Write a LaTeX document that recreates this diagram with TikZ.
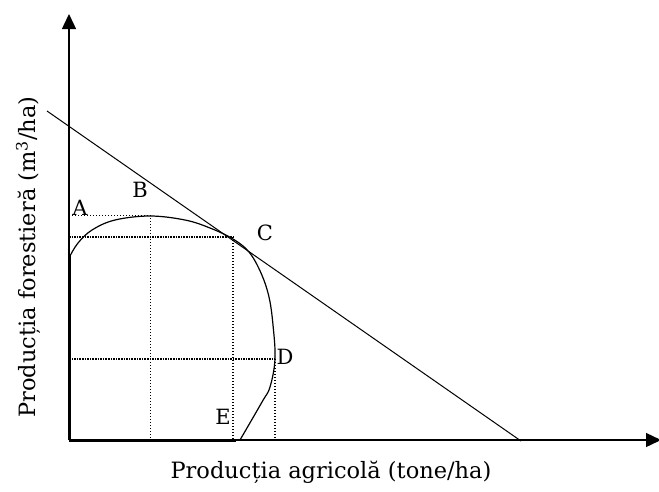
\documentclass[tikz,border=0pt]{standalone}
\usepackage{fontspec}
\setmainfont{DejaVu Serif}
\usetikzlibrary{arrows.meta}
\begin{document}
\begin{tikzpicture}[x=1pt,y=-1pt,
  axis/.style={line width=1.4pt,-{Triangle[length=15pt,width=14pt]}},
  heavy/.style={line width=3pt},
  thindot/.style={line width=1pt,dotted},
  thickdot/.style={line width=1.6pt,densely dotted},
  lbl/.style={font=\fontsize{21}{21}\selectfont,inner sep=0pt},
  axlbl/.style={font=\fontsize{22.5}{22.5}\selectfont,inner sep=0pt},
  curve/.style={line width=1.2pt}]
\useasboundingbox (0,0) rectangle (659,491);
% key points
\coordinate (O) at (69,440);
\coordinate (Ytop) at (69,14);
\coordinate (Xend) at (661,440);
\coordinate (A) at (69,215);
\coordinate (Pk) at (150,215);
\coordinate (Pb) at (150,440);
\coordinate (Cl) at (69,237);
\coordinate (C) at (233,237);
\coordinate (Cb) at (233,440);
\coordinate (Dl) at (69,359);
\coordinate (D) at (275,359);
\coordinate (Db) at (275,440);
\coordinate (E) at (236,440);
\coordinate (Cs) at (69,256);
\coordinate (T1) at (47,111);
\coordinate (T2) at (521,441);
% axes
\draw[axis] (O) -- (Ytop);
\draw[axis] (O) -- (Xend);
% thick segments
\draw[heavy] (O) -- (Cs);
\draw[heavy] (O) -- (E);
\draw[line width=2pt,densely dotted] (Cs) -- (A);
% dotted guides
\draw[thindot] (A) -- (Pk);
\draw[thindot] (Pk) -- (Pb);
\draw[thickdot] (Cl) -- (C);
\draw[thindot,line width=1.3pt] (C) -- (Cb);
\draw[thickdot] (Dl) -- (D);
\draw[thindot,line width=1.3pt] (D) -- (Db);
\draw[thindot,line width=1.6pt] (E) -- (Db);
% tangent line
\draw[line width=1pt] (T1) -- (T2);
% production frontier
\draw[curve] plot[smooth,tension=0.6] coordinates {(70,256) (78,243) (92,230) (115,220) (150,216) (185,220) (210,228) (233,239) (249,252) (261,273) (269,297) (273,325) (275,359) (270,387) (262,402) (240,440)};
% labels
\node[lbl] (la) at (80,208) {A};
\node[lbl] (lb) at (140,190) {B};
\node[lbl] (lc) at (265,233) {C};
\node[lbl] (ld) at (285,357) {D};
\node[lbl] (le) at (223,417) {E};
\node[axlbl] (xl) at (331,472) {Producția agricolă (tone/ha)};
\node[axlbl,rotate=90] (yl) at (28,257) {Producția forestieră (m\textsuperscript{3}/ha)};
\end{tikzpicture}
\end{document}
